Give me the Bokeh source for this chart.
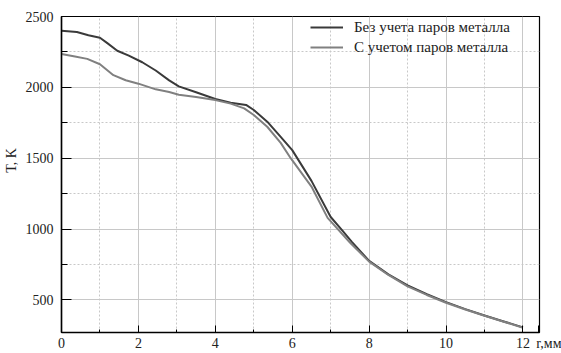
from bokeh.plotting import figure
from bokeh.models import Range1d, Legend, LegendItem, FixedTicker
from bokeh.embed import file_html
from bokeh.resources import INLINE

# Data (r in mm, T in K)
r1 = [0.0, 0.4, 0.7, 1.0, 1.2, 1.45, 1.75, 2.1, 2.45, 2.8, 3.05, 3.5, 4.0, 4.4, 4.8,
      5.0, 5.35, 5.7, 6.0, 6.5, 7.0, 7.3, 7.55, 8.0, 8.5, 9.0, 9.5, 10.0, 10.5, 11.0, 11.5, 12.0]
t1 = [2400, 2390, 2368, 2350, 2310, 2258, 2224, 2177, 2119, 2049, 2007, 1965, 1918, 1892, 1876,
      1840, 1758, 1650, 1557, 1340, 1085, 990, 910, 775, 680, 603, 540, 484, 435, 390, 348, 306]

r2 = [0.0, 0.35, 0.67, 1.0, 1.35, 1.67, 2.0, 2.45, 2.8, 3.05, 3.5, 4.0, 4.4, 4.75,
      5.0, 5.35, 5.7, 5.96, 6.5, 6.92, 7.5, 8.0, 8.5, 9.0, 9.5, 10.0, 10.5, 11.0, 11.5, 12.0]
t2 = [2236, 2217, 2201, 2163, 2086, 2050, 2026, 1986, 1967, 1948, 1932, 1910, 1885, 1852,
      1805, 1722, 1608, 1500, 1300, 1079, 905, 770, 676, 595, 535, 480, 432, 388, 346, 304]

series_names = ["Без учета паров металла", "С учетом паров металла"]
x_major = [0, 2, 4, 6, 8, 10, 12]
x_minor = [1, 3, 5, 7, 9, 11]
y_major = [500, 1000, 1500, 2000, 2500]
y_minor = [750, 1250, 1750, 2250]
x_title = "r,мм"
y_title = "T, K"
x_title_pos = 12.4

FONT = "'Liberation Serif', serif"

p = figure(width=561, height=353, output_backend="svg", toolbar_location=None,
           x_range=Range1d(0, 12.43), y_range=Range1d(270, 2500),
           min_border_left=61, min_border_right=22, min_border_top=16, min_border_bottom=19)

p.outline_line_color = "black"
p.outline_line_width = 1.2

for ax in (p.xaxis[0], p.yaxis[0]):
    ax.axis_line_color = "black"
    ax.axis_line_width = 1.5
    ax.major_tick_line_color = "black"
    ax.minor_tick_line_color = "black"
    ax.major_tick_out = 0
    ax.minor_tick_out = 0
    ax.major_label_text_font = FONT
    ax.major_label_text_font_size = "14px"
    ax.major_label_text_color = "#222222"

# x axis: the unit title is drawn as an extra tick label at the right end
p.xaxis.ticker = FixedTicker(ticks=x_major + [x_title_pos], minor_ticks=x_minor)
p.xaxis.major_label_overrides = {x_title_pos: "\u2003\u2002" + x_title}
p.yaxis.ticker = FixedTicker(ticks=y_major, minor_ticks=y_minor)
p.xaxis.major_tick_in = 7
p.xaxis.minor_tick_in = 3
p.yaxis.major_tick_in = 10
p.yaxis.minor_tick_in = 6
p.xaxis.major_label_standoff = 3
p.yaxis.major_label_standoff = 8

p.yaxis.axis_label = "\u2003\u2003" + y_title
p.yaxis.axis_label_text_font = FONT
p.yaxis.axis_label_text_font_size = "14px"
p.yaxis.axis_label_text_font_style = "normal"
p.yaxis.axis_label_text_color = "#222222"
p.yaxis.axis_label_standoff = 4

p.xgrid.ticker = FixedTicker(ticks=x_major, minor_ticks=x_minor)
p.ygrid.ticker = FixedTicker(ticks=y_major, minor_ticks=y_minor)
for g in (p.xgrid[0], p.ygrid[0]):
    g.grid_line_color = "#c8c8c8"
    g.grid_line_width = 1
    g.minor_grid_line_color = "#c8c8c8"
    g.minor_grid_line_dash = "2 2"
    g.minor_grid_line_width = 1

l1 = p.line(r1, t1, line_color="#3a3a3a", line_width=2, line_join="round")
l2 = p.line(r2, t2, line_color="#808080", line_width=2, line_join="round")

legend = Legend(items=[LegendItem(label=series_names[0], renderers=[l1]),
                       LegendItem(label=series_names[1], renderers=[l2])],
                location=(249, 275), margin=0, padding=0, spacing=0,
                glyph_width=33, glyph_height=20, label_height=20, label_standoff=11,
                label_text_font=FONT, label_text_font_size="15px", label_text_color="#222222",
                border_line_color=None, background_fill_alpha=0)
p.add_layout(legend)

open("out.html", "w").write(file_html(p, INLINE))
